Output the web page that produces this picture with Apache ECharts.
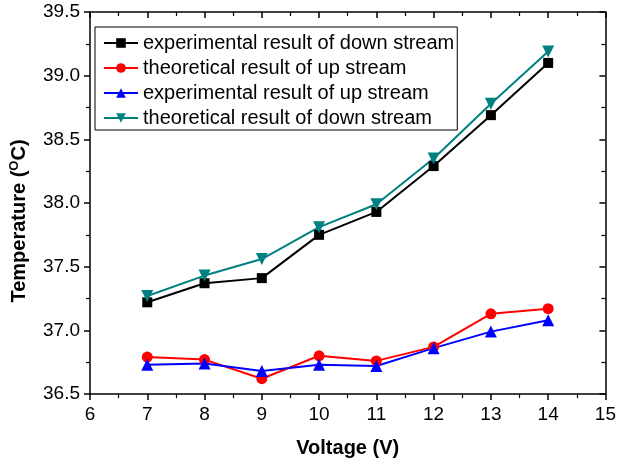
<!DOCTYPE html>
<html>
<head>
<meta charset="utf-8">
<script src="https://cdn.jsdelivr.net/npm/echarts@6/dist/echarts.min.js"></script>
<style>
  html, body { margin: 0; padding: 0; background: #fff; }
  #chart { width: 619px; height: 464px; }
</style>
</head>
<body>
<div id="chart"></div>
<script>
// Supply voltage (V)
const voltage = [7, 8, 9, 10, 11, 12, 13, 14];

// Temperatures (°C)
const expDown = [37.22, 37.37, 37.41, 37.75, 37.93, 38.29, 38.69, 39.10];
const theoUp = [36.79, 36.77, 36.62, 36.80, 36.76, 36.87, 37.13, 37.17];
const expUp = [36.73, 36.74, 36.68, 36.73, 36.72, 36.86, 36.99, 37.08];
const theoDown = [37.27, 37.43, 37.56, 37.81, 37.99, 38.35, 38.78, 39.19];

const seriesNames = [
  'experimental result of down stream',
  'theoretical result of up stream',
  'experimental result of up stream',
  'theoretical result of down stream'
];

const pairs = (ys) => voltage.map((x, i) => [x, ys[i]]);

const FONT = 'Liberation Sans, Arial, sans-serif';
const chart = echarts.init(document.getElementById('chart'), null, { renderer: 'canvas' });

const tickCommon = {
  axisLine: { show: true, onZero: false, lineStyle: { color: '#000', width: 1.5 } },
  splitLine: { show: false }
};

function line(name, data, color, symbol, size, rotate) {
  return {
    name: name,
    type: 'line',
    data: pairs(data),
    symbol: symbol,
    symbolSize: size,
    symbolRotate: rotate || 0,
    lineStyle: { color: color, width: 2 },
    itemStyle: { color: color },
    animation: false
  };
}

chart.setOption({
  backgroundColor: '#fff',
  grid: { left: 89, right: 10, top: 12, bottom: 70, containLabel: false },
  legend: {
    orient: 'vertical',
    left: 95,
    top: 27,
    padding: [6, 3, 2, 8],
    itemGap: 5,
    itemWidth: 34,
    itemHeight: 12,
    borderColor: '#000',
    borderWidth: 1,
    borderRadius: 0,
    textStyle: { fontFamily: FONT, fontSize: 20, color: '#000', lineHeight: 20 },
    data: seriesNames
  },
  xAxis: [
    Object.assign({
      type: 'value', min: 6, max: 15, interval: 1, position: 'bottom',
      name: 'Voltage (V)', nameLocation: 'middle', nameGap: 44,
      nameTextStyle: { fontFamily: FONT, fontSize: 20, fontWeight: 'bold', color: '#000' },
      axisTick: { show: true, inside: false, length: 6, lineStyle: { color: '#000', width: 1.5 } },
      minorTick: { show: true, splitNumber: 2, length: 4, lineStyle: { color: '#000', width: 1.2 } },
      axisLabel: { fontFamily: FONT, fontSize: 19, color: '#000', margin: 11 }
    }, tickCommon),
    Object.assign({
      type: 'value', min: 6, max: 15, interval: 1, position: 'top',
      axisTick: { show: true, inside: true, length: 6, lineStyle: { color: '#000', width: 1.5 } },
      minorTick: { show: true, splitNumber: 2, length: 4, lineStyle: { color: '#000', width: 1.2 } },
      axisLabel: { show: false }
    }, tickCommon)
  ],
  yAxis: [
    Object.assign({
      type: 'value', min: 36.5, max: 39.5, interval: 0.5, position: 'left',
      name: '{b|Temperature (}{sup|O}{b|C)}', nameLocation: 'middle', nameGap: 60, nameRotate: 90,
      nameTextStyle: {
        padding: [0, 36, 0, 0],
        rich: {
          b: { fontFamily: FONT, fontSize: 20, fontWeight: 'bold', color: '#000' },
          sup: { fontFamily: FONT, fontSize: 13, fontWeight: 'bold', color: '#000', verticalAlign: 'top', padding: [0, 0, 9, 0] }
        }
      },
      axisTick: { show: true, inside: false, length: 6, lineStyle: { color: '#000', width: 1.5 } },
      minorTick: { show: true, splitNumber: 2, length: 4, lineStyle: { color: '#000', width: 1.2 } },
      axisLabel: { fontFamily: FONT, fontSize: 19, color: '#000', margin: 10, formatter: v => v.toFixed(1) }
    }, tickCommon),
    Object.assign({
      type: 'value', min: 36.5, max: 39.5, interval: 0.5, position: 'right',
      axisTick: { show: true, inside: true, length: 6, lineStyle: { color: '#000', width: 1.5 } },
      minorTick: { show: true, splitNumber: 2, length: 4, lineStyle: { color: '#000', width: 1.2 } },
      axisLabel: { show: false }
    }, tickCommon)
  ],
  series: [
    line(seriesNames[0], expDown, '#000000', 'rect', 10),
    line(seriesNames[1], theoUp, '#ff0000', 'circle', 11),
    line(seriesNames[2], expUp, '#0000ff', 'triangle', 12),
    line(seriesNames[3], theoDown, '#008080', 'triangle', 12, 180)
  ]
});
</script>
</body>
</html>
